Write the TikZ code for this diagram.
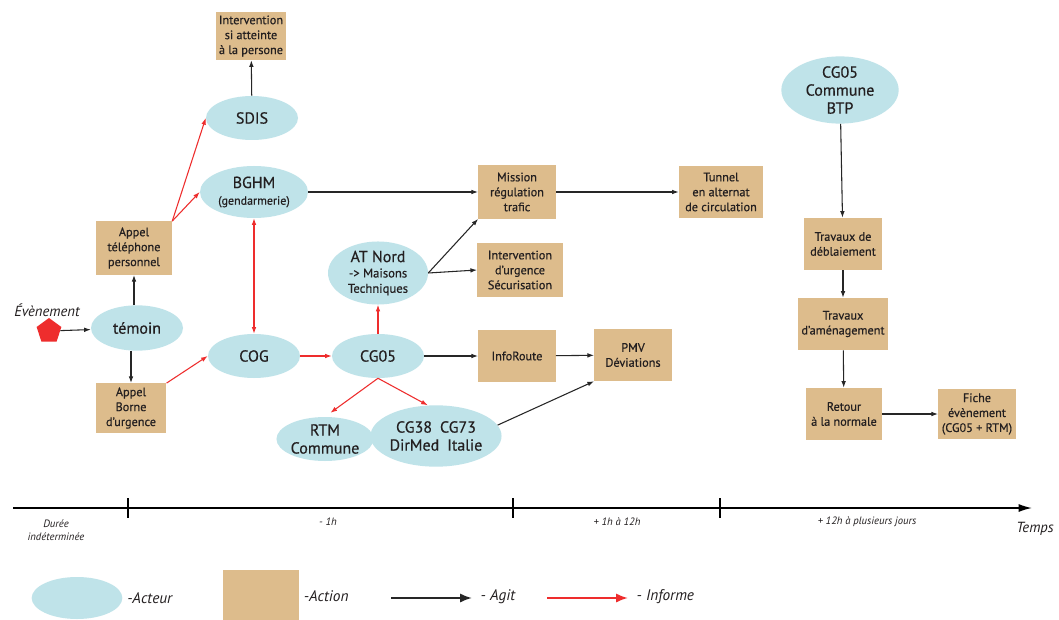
\documentclass[tikz,border=0pt]{standalone}
\usepackage{fontspec}
\setmainfont{PT Sans}[UprightFeatures={FakeBold=0.5}]
\usetikzlibrary{shapes.geometric,arrows.meta}
\definecolor{actcol}{RGB}{191,227,233}
\definecolor{boxcol}{RGB}{221,188,140}
\definecolor{infcol}{RGB}{238,45,45}
\definecolor{txt}{RGB}{35,31,32}
\begin{document}
\begin{tikzpicture}[x=0.75pt,y=-0.75pt,
  every node/.style={text=txt},
  actor/.style={ellipse, fill=actcol, inner sep=0pt, align=center, font=\fontsize{12}{13.5}\selectfont},
  actbox/.style={rectangle, fill=boxcol, inner sep=0pt, align=center, font=\fontsize{9.2}{11.2}\selectfont},
  agit/.style={-{Latex[length=5pt,width=3.5pt]}, line width=0.8pt, draw=black!85},
  inform/.style={-{Latex[length=5pt,width=3.5pt]}, line width=0.8pt, draw=infcol},
  lbl/.style={font=\fontsize{8}{9.5}\selectfont\itshape, align=center},
  leg/.style={font=\fontsize{11.5}{13}\selectfont\itshape, anchor=west}]
\useasboundingbox (0,0) rectangle (1059,620);
\fill[white] (0,0) rectangle (1059,620);

% actors
\node[actor, minimum width=69pt, minimum height=33pt] (sdis) at (252,118) {SDIS};
\node[actor, minimum width=81pt, minimum height=39pt] (bghm) at (254,192) {BGHM\\[-1pt]{\fontsize{9}{10}\selectfont(gendarmerie)}};
\node[actor, minimum width=69pt, minimum height=34pt] (tem) at (137,328) {témoin};
\node[actor, minimum width=69pt, minimum height=33pt] (cog) at (254,356) {COG};
\node[actor, minimum width=69pt, minimum height=33pt] (cg05) at (378,356) {CG05};
\node[actor, minimum width=75pt, minimum height=44pt] (atn) at (378,273) {AT Nord\\[-2pt]{\fontsize{9.5}{11}\selectfont -> Maisons}\\[-2pt]{\fontsize{9.5}{11}\selectfont Techniques}};
\node[actor, minimum width=68pt, minimum height=33pt] (rtm) at (325,439) {RTM\\Commune};
\node[actor, minimum width=84pt, minimum height=46pt] (cg38) at (436,436) {CG38\enspace CG73\\DirMed\enspace Italie};
\node[actor, minimum width=88pt, minimum height=47pt] (btp) at (840,90) {CG05\\Commune\\BTP};

% actions
\node[actbox, minimum width=53pt, minimum height=36pt] (int) at (251,36) {Intervention\\si atteinte\\à la persone};
\node[actbox, minimum width=57pt, minimum height=40pt] (tel) at (134,248) {Appel\\téléphone\\personnel};
\node[actbox, minimum width=53pt, minimum height=37pt] (borne) at (131,408) {Appel\\Borne\\d'urgence};
\node[actbox, minimum width=58pt, minimum height=40pt] (mis) at (517,192) {Mission\\régulation\\trafic};
\node[actbox, minimum width=64pt, minimum height=40pt] (urg) at (520,270) {Intervention\\d'urgence\\Sécurisation};
\node[actbox, minimum width=58pt, minimum height=39pt] (info) at (517,356) {InfoRoute};
\node[actbox, minimum width=58pt, minimum height=39pt] (pmv) at (633,355) {PMV\\Déviations};
\node[actbox, minimum width=63pt, minimum height=39pt] (tun) at (721,192) {Tunnel\\en alternat\\de circulation};
\node[actbox, minimum width=58pt, minimum height=39pt] (deb) at (843,244) {Travaux de\\déblaiement};
\node[actbox, minimum width=68pt, minimum height=39pt] (amen) at (843,324) {Travaux\\d'aménagement};
\node[actbox, minimum width=57pt, minimum height=39pt] (ret) at (844,414) {Retour\\à la normale};
\node[actbox, minimum width=58pt, minimum height=38pt] (fiche) at (977,414) {Fiche\\évènement\\(CG05 + RTM)};

% event
\node[regular polygon, regular polygon sides=5, fill=infcol, minimum size=19.5pt, inner sep=0pt] (ev) at (49,331) {};
\node[font=\fontsize{11}{12}\selectfont\itshape] (evt) at (47,310) {Évènement};

% Agit arrows
\draw[agit] (ev) -- (tem);
\draw[agit] (tem.north -| tel.south) -- (tel.south);
\draw[agit] (tem.south -| borne.north) -- (borne.north);
\draw[agit] (sdis) -- (int);
\draw[agit] (bghm.east) -- (mis.west);
\draw[agit] (atn.east) -- (mis.south west);
\draw[agit] (atn.east) -- (urg.west);
\draw[agit] (cg05) -- (info);
\draw[agit] (info) -- (pmv);
\draw[agit] (cg38.10) -- (pmv.south west);
\draw[agit] (mis) -- (tun);
\draw[agit] (btp) -- (deb);
\draw[agit] (deb) -- (amen);
\draw[agit] (amen) -- (ret);
\draw[agit] (ret) -- (fiche);

% Informe arrows
\draw[inform] (tel.north east) -- (sdis.west);
\draw[inform] (tel.north east) -- (bghm.west);
\draw[inform, {Latex[length=5pt,width=3.5pt]}-{Latex[length=5pt,width=3.5pt]}] (bghm.south) -- (cog.north);
\draw[inform] (borne.north east) -- (cog.west);
\draw[inform] (cog) -- (cg05);
\draw[inform] (cg05) -- (atn);
\draw[inform, shorten >=5pt] (cg05.south) -- (rtm.north);
\draw[inform] (cg05.south) -- (cg38.105);

% timeline
\coordinate (t0) at (13,508);
\coordinate (t1) at (1032,508);
\draw[line width=1.2pt, -{Latex[length=10pt,width=6pt]}] (t0) -- (t1);
\foreach \x in {128,513,720} \draw[line width=1pt] (\x,498) -- (\x,518);
\node[lbl] (d1) at (56,530) {Durée\\indéterminée};
\node[lbl] (d2) at (328,522) {- 1h};
\node[lbl] (d3) at (617,522) {+ 1h à 12h};
\node[lbl] (d4) at (867,522) {+ 12h à plusieurs jours};
\node[font=\fontsize{11}{12}\selectfont\itshape] (tps) at (1035,529) {Temps};

% legend
\node[ellipse, fill=actcol, minimum width=68pt, minimum height=31.5pt, inner sep=0pt] (le) at (77,598) {};
\node[leg] (la) at (le.east) {-Acteur};
\node[rectangle, fill=boxcol, minimum width=57pt, minimum height=39pt, inner sep=0pt] (lb) at (261,596) {};
\node[leg] (lc) at (lb.east) {-Action};
\coordinate (ag0) at (391,598);
\coordinate (ag1) at (472,598);
\draw[line width=1.6pt, black!85, -{Latex[length=9pt,width=7pt]}] (ag0) -- (ag1);
\node[leg] (lag) at (476,597) {- Agit};
\coordinate (in0) at (547,598);
\coordinate (in1) at (628,598);
\draw[line width=1.6pt, infcol, -{Latex[length=9pt,width=7pt]}] (in0) -- (in1);
\node[leg] (lin) at (632,597) {- Informe};
\end{tikzpicture}
\end{document}
